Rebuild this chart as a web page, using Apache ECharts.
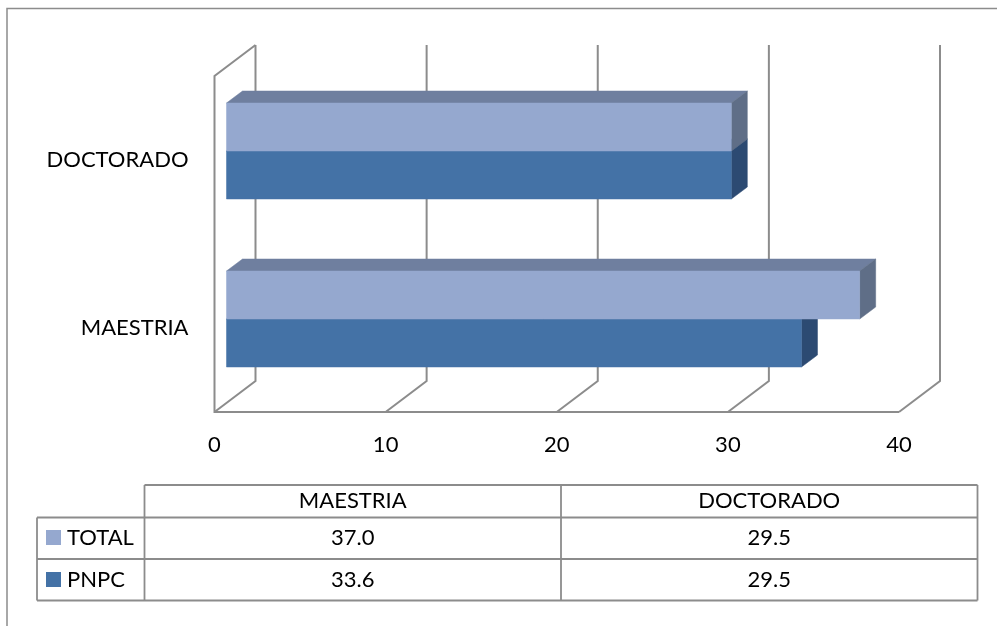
<!DOCTYPE html>
<html>
<head>
<meta charset="utf-8">
<style>html,body{margin:0;padding:0;background:#fff}#chart{width:997px;height:626px}</style>
<script src="https://cdn.jsdelivr.net/npm/echarts@6/dist/echarts.min.js"></script>
</head>
<body>
<div id="chart"></div>
<script>
// Posgrados: porcentaje por nivel
const categories = ['MAESTRIA', 'DOCTORADO'];
const totalValues = [37.0, 29.5];
const pnpcValues = [33.6, 29.5];
const xTicks = [0, 10, 20, 30, 40];

const FONT = 'Lato, Carlito, "Open Sans", sans-serif';
const FONT_SIZE = 22;
const LINE = '#8c8c8c';

// Oblique projection of the box: full wall depth and where the bars sit in it
const WALL_DX = 41, WALL_DY = -31;
const BAR_NEAR_DX = 12, BAR_NEAR_DY = -9;
const BAR_DX = 16, BAR_DY = -12;
const BAR_BAND_RATIO = 48 / 168;

const grid = { left: 214.5, top: 76, width: 684.5, height: 336 };

function line(points, width) {
  return {
    type: 'polyline',
    shape: { points },
    style: { stroke: LINE, lineWidth: width || 2, fill: null, lineJoin: 'miter' },
    silent: true
  };
}

// Floor, side wall and back-wall gridlines
function renderWalls(params, api) {
  const cs = params.coordSys;
  const bottom = cs.y + cs.height;
  const top = cs.y;
  const x = api.coord([api.value(0), 0])[0];
  const children = [line([
    [x, bottom],
    [x + WALL_DX, bottom + WALL_DY],
    [x + WALL_DX, top + WALL_DY]
  ])];
  if (params.dataIndex === 0) {
    children.push(line([
      [x + WALL_DX, top + WALL_DY],
      [x, top],
      [x, bottom],
      [cs.x + cs.width, bottom]
    ]));
  }
  return { type: 'group', children };
}

function face(points, fill) {
  return { type: 'polygon', shape: { points }, style: { fill, stroke: fill, lineWidth: 0.5 } };
}

// One prism: "side" is -1 for the lower bar of a pair and 0 for the upper one
function prismRenderer(colors, side) {
  return function (params, api) {
    const end = api.coord([api.value(0), api.value(1)]);
    const zero = api.coord([0, api.value(1)]);
    const h = api.size([0, 1])[1] * BAR_BAND_RATIO;
    const x0 = zero[0] + BAR_NEAR_DX;
    const x1 = end[0] + BAR_NEAR_DX;
    const yTop = end[1] + BAR_NEAR_DY + (side === 0 ? -h : 0);
    const yBot = yTop + h;
    return {
      type: 'group',
      children: [
        face([[x0, yTop], [x0 + BAR_DX, yTop + BAR_DY], [x1 + BAR_DX, yTop + BAR_DY], [x1, yTop]], colors.top),
        face([[x1, yTop], [x1 + BAR_DX, yTop + BAR_DY], [x1 + BAR_DX, yBot + BAR_DY], [x1, yBot]], colors.side),
        face([[x0, yTop], [x1, yTop], [x1, yBot], [x0, yBot]], colors.front)
      ]
    };
  };
}

const TOTAL_COLORS = { front: '#95a8cf', top: '#6f7f9f', side: '#5f6e87' };
const PNPC_COLORS = { front: '#4472a6', top: '#34577f', side: '#2c4a72' };

// Data table under the plot
const tableX = { legend: 37, head: 144.5, mid: 561, right: 977.5 };
const tableY = { top: 485, head: 517.5, row1: 559, bottom: 600.5 };

function tableLine(x1, y1, x2, y2) {
  return {
    type: 'line',
    shape: { x1, y1, x2, y2 },
    style: { stroke: LINE, lineWidth: 1.8 },
    silent: true
  };
}
function tableText(text, x, y, align) {
  return {
    type: 'text',
    x, y,
    style: { text, fill: '#000', font: FONT_SIZE + 'px ' + FONT, align: align || 'center', verticalAlign: 'middle' },
    silent: true
  };
}
function swatch(y, fill) {
  return { type: 'rect', shape: { x: 46, y, width: 15, height: 15 }, style: { fill }, silent: true };
}

const colCenters = [(tableX.head + tableX.mid) / 2, (tableX.mid + tableX.right) / 2];
const graphics = [
  // Outer chart frame: only top and left edges are visible
  { type: 'polyline', shape: { points: [[7, 626], [7, 8.5], [997, 8.5]] }, style: { stroke: LINE, lineWidth: 1.5, fill: null }, silent: true },
  tableLine(tableX.head, tableY.top, tableX.right, tableY.top),
  tableLine(tableX.legend, tableY.head, tableX.right, tableY.head),
  tableLine(tableX.legend, tableY.row1, tableX.right, tableY.row1),
  tableLine(tableX.legend, tableY.bottom, tableX.right, tableY.bottom),
  tableLine(tableX.legend, tableY.head, tableX.legend, tableY.bottom),
  tableLine(tableX.head, tableY.top, tableX.head, tableY.bottom),
  tableLine(tableX.mid, tableY.top, tableX.mid, tableY.bottom),
  tableLine(tableX.right, tableY.top, tableX.right, tableY.bottom),
  swatch(530, TOTAL_COLORS.front),
  swatch(572, PNPC_COLORS.front),
  tableText('TOTAL', 67, 538, 'left'),
  tableText('PNPC', 67, 579.5, 'left')
];
categories.forEach((c, i) => {
  graphics.push(tableText(c, colCenters[i], 501));
  graphics.push(tableText(totalValues[i].toFixed(1), colCenters[i], 538));
  graphics.push(tableText(pnpcValues[i].toFixed(1), colCenters[i], 579.5));
});

const chart = echarts.init(document.getElementById('chart'), null, { renderer: 'canvas' });
chart.setOption({
  animation: false,
  backgroundColor: '#fff',
  grid,
  xAxis: {
    type: 'value',
    min: 0,
    max: 40,
    interval: 10,
    axisLine: { show: false },
    axisTick: { show: false },
    splitLine: { show: false },
    axisLabel: { color: '#000', fontFamily: FONT, fontSize: FONT_SIZE, margin: 22, hideOverlap: false }
  },
  yAxis: {
    type: 'category',
    data: categories,
    axisLine: { show: false },
    axisTick: { show: false },
    splitLine: { show: false },
    axisLabel: { color: '#000', fontFamily: FONT, fontSize: FONT_SIZE, margin: 26 }
  },
  graphic: { elements: graphics },
  series: [
    {
      type: 'custom',
      name: 'walls',
      silent: true,
      clip: false,
      renderItem: renderWalls,
      encode: { x: 0, y: 1 },
      data: xTicks.map(t => [t, 0])
    },
    {
      type: 'custom',
      name: 'PNPC',
      clip: false,
      renderItem: prismRenderer(PNPC_COLORS, -1),
      encode: { x: 0, y: 1 },
      data: pnpcValues.map((v, i) => [v, i])
    },
    {
      type: 'custom',
      name: 'TOTAL',
      clip: false,
      renderItem: prismRenderer(TOTAL_COLORS, 0),
      encode: { x: 0, y: 1 },
      data: totalValues.map((v, i) => [v, i])
    }
  ]
});
</script>
</body>
</html>
